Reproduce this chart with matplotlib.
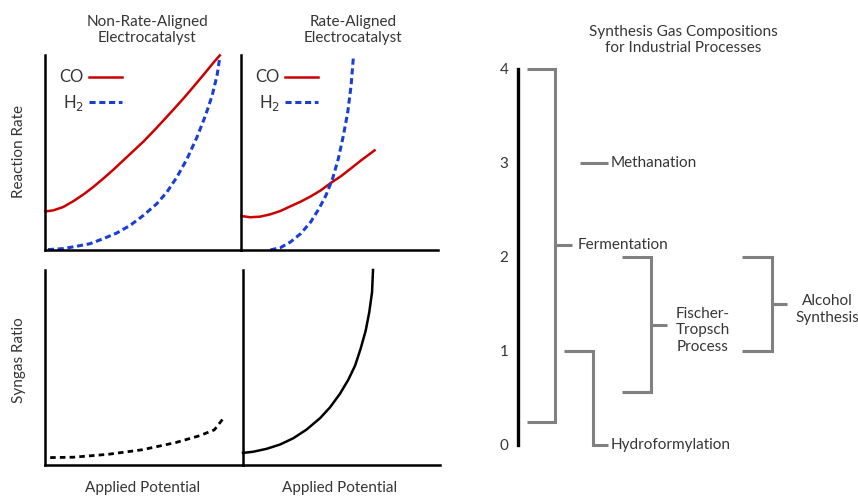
import matplotlib
matplotlib.use("Agg")
import matplotlib.pyplot as plt

plt.rcParams['font.family'] = ['Lato', 'DejaVu Sans']
plt.rcParams['font.size'] = 11

W, H = 858, 496

# --- reaction rate curves (applied potential 0..1, rate 0..1) ---
co_nra_x = [0.003, 0.041, 0.092, 0.144, 0.195, 0.246, 0.297, 0.349, 0.40, 0.451,
            0.503, 0.554, 0.605, 0.656, 0.708, 0.759, 0.81, 0.862, 0.892]
co_nra_y = [0.198, 0.203, 0.22, 0.25, 0.284, 0.323, 0.366, 0.412, 0.46, 0.508,
            0.557, 0.61, 0.665, 0.721, 0.779, 0.839, 0.90, 0.964, 0.998]
h2_nra_x = [0.015, 0.092, 0.16, 0.229, 0.297, 0.366, 0.434, 0.503, 0.571, 0.622,
            0.673, 0.725, 0.776, 0.819, 0.853, 0.878, 0.892]
h2_nra_y = [0.002, 0.007, 0.019, 0.032, 0.058, 0.087, 0.126, 0.178, 0.238, 0.297,
            0.374, 0.468, 0.58, 0.69, 0.793, 0.896, 0.99]

co_ra_x = [0.003, 0.046, 0.097, 0.149, 0.20, 0.251, 0.303, 0.354, 0.405, 0.456,
           0.508, 0.559, 0.61, 0.678]
co_ra_y = [0.174, 0.168, 0.171, 0.183, 0.20, 0.224, 0.248, 0.275, 0.306, 0.344,
           0.379, 0.419, 0.46, 0.511]
h2_ra_x = [0.149, 0.20, 0.251, 0.303, 0.354, 0.396, 0.431, 0.465, 0.494, 0.52,
           0.542, 0.559, 0.571]
h2_ra_y = [0, 0.012, 0.041, 0.084, 0.144, 0.212, 0.28, 0.366, 0.468, 0.588,
           0.708, 0.845, 0.995]

# --- syngas ratio curves ---
ratio_nra_x = [0.026, 0.145, 0.32, 0.49, 0.66, 0.78, 0.855, 0.905]
ratio_nra_y = [0.038, 0.04, 0.055, 0.078, 0.115, 0.15, 0.18, 0.245]
ratio_ra_x = [0, 0.052, 0.12, 0.188, 0.255, 0.323, 0.391, 0.442, 0.492, 0.535,
              0.569, 0.597, 0.623, 0.641, 0.655, 0.66]
ratio_ra_y = [0.062, 0.068, 0.083, 0.105, 0.137, 0.182, 0.24, 0.296, 0.365, 0.438,
              0.51, 0.596, 0.69, 0.784, 0.886, 1.0]

# --- industrial process H2/CO ranges ---
process_names = ["Methanation", "Fermentation", "Hydroformylation",
                 "Fischer-\nTropsch\nProcess", "Alcohol\nSynthesis"]
ratio_low = [3.0, 0.25, 1.0, 0.56, 1.0]
ratio_high = [3.0, 4.0, 1.0, 2.0, 2.0]
axis_ticks = [0, 1, 2, 3, 4]

TXT = "#363636"
RED = "#cc0000"
BLUE = "#1a3fd4"
GRAY = "#808080"


def box(x0, y0, x1, y1):
    # pixel box (top-down) -> figure fraction rect
    return [x0 / W, 1 - y1 / H, (x1 - x0) / W, (y1 - y0) / H]


def fx(px):
    return px / W


def fy(py):
    return 1 - py / H


fig = plt.figure(figsize=(W / 100, H / 100), dpi=100)

panels = [
    box(45, 55, 241, 250), box(241, 55, 438, 250),
    box(45, 270, 243, 465), box(243, 270, 440, 465),
]
axes = []
for rect in panels:
    ax = fig.add_axes(rect)
    ax.set_xlim(0, 1)
    ax.set_ylim(0, 1)
    ax.set_xticks([])
    ax.set_yticks([])
    for s in ['top', 'right']:
        ax.spines[s].set_visible(False)
    for s in ['left', 'bottom']:
        ax.spines[s].set_linewidth(1.8)
        ax.spines[s].set_color('black')
    ax.patch.set_alpha(0)
    axes.append(ax)

ax1, ax2, ax3, ax4 = axes

ax1.plot(co_nra_x, co_nra_y, color=RED, lw=1.8, label='CO', clip_on=False)
ax1.plot(h2_nra_x, h2_nra_y, color=BLUE, lw=2.2, ls=(0, (2, 1.2)), label='H$_2$', clip_on=False)
ax2.plot(co_ra_x, co_ra_y, color=RED, lw=1.8, label='CO', clip_on=False)
ax2.plot(h2_ra_x, h2_ra_y, color=BLUE, lw=2.2, ls=(0, (2, 1.2)), label='H$_2$', clip_on=False)
ax3.plot(ratio_nra_x, ratio_nra_y, color='black', lw=2.0, ls=(0, (2, 1.5)), clip_on=False)
ax4.plot(ratio_ra_x, ratio_ra_y, color='black', lw=1.8, clip_on=False)

for ax in (ax1, ax2):
    leg = ax.legend(loc='upper left', bbox_to_anchor=(0.04, 0.96), frameon=False,
                    markerfirst=False, handlelength=2.0, handletextpad=0.3,
                    labelspacing=0.45, fontsize=12, borderaxespad=0)
    for t in leg.get_texts():
        t.set_color(TXT)

fig.text(fx(147), fy(30), "Non-Rate-Aligned\nElectrocatalyst", ha='center', va='center',
         color=TXT, linespacing=1.25)
fig.text(fx(353), fy(30), "Rate-Aligned\nElectrocatalyst", ha='center', va='center',
         color=TXT, linespacing=1.25)
fig.text(fx(19), fy(152), "Reaction Rate", rotation=90, ha='center', va='center', color=TXT)
fig.text(fx(19), fy(360), "Syngas Ratio", rotation=90, ha='center', va='center', color=TXT)
fig.text(fx(143), fy(488), "Applied Potential", ha='center', va='center', color=TXT)
fig.text(fx(340), fy(488), "Applied Potential", ha='center', va='center', color=TXT)

# --- right diagram: x in pixels, y in H2/CO ratio ---
axr = fig.add_axes(box(500, 69, 858, 445))
axr.set_xlim(500, 858)
axr.set_ylim(0, 4)
axr.patch.set_alpha(0)
for s in ['top', 'right', 'bottom']:
    axr.spines[s].set_visible(False)
axr.spines['left'].set_position(('data', 518))
axr.spines['left'].set_linewidth(2.4)
axr.set_xticks([])
axr.set_yticks(axis_ticks)
axr.tick_params(axis='y', length=0, pad=7, labelcolor=TXT, labelsize=11)

lw_b = 2.2
kw = dict(color=GRAY, lw=lw_b, clip_on=False, solid_capstyle='butt', solid_joinstyle='miter')

# Methanation
axr.plot([580, 608], [ratio_low[0], ratio_high[0]], **kw)
axr.text(611, ratio_high[0], process_names[0], va='center', ha='left', color=TXT)

# Fermentation bracket
lo, hi = ratio_low[1], ratio_high[1]
mid = (lo + hi) / 2
axr.plot([527, 555, 555, 527], [hi, hi, lo, lo], **kw)
axr.plot([555, 572], [mid, mid], **kw)
axr.text(578, mid, process_names[1], va='center', ha='left', color=TXT)

# Hydroformylation
r = ratio_low[2]
axr.plot([564, 593, 593, 608], [r, r, 0, 0], **kw)
axr.text(611, 0, process_names[2], va='center', ha='left', color=TXT)

# Fischer-Tropsch bracket
lo, hi = ratio_low[3], ratio_high[3]
mid = (lo + hi) / 2
axr.plot([622, 651, 651, 622], [hi, hi, lo, lo], **kw)
axr.plot([651, 667], [mid, mid], **kw)
axr.text(703, mid - 0.06, process_names[3], va='center', ha='center', color=TXT, linespacing=1.25)

# Alcohol synthesis bracket
lo, hi = ratio_low[4], ratio_high[4]
mid = (lo + hi) / 2
axr.plot([742, 772, 772, 742], [hi, hi, lo, lo], **kw)
axr.plot([772, 787], [mid, mid], **kw)
axr.text(827, mid - 0.06, process_names[4], va='center', ha='center', color=TXT, linespacing=1.25)

fig.text(fx(683), fy(40), "Synthesis Gas Compositions\nfor Industrial Processes",
         ha='center', va='center', color=TXT, linespacing=1.25)

fig.savefig("out.png", dpi=100)
